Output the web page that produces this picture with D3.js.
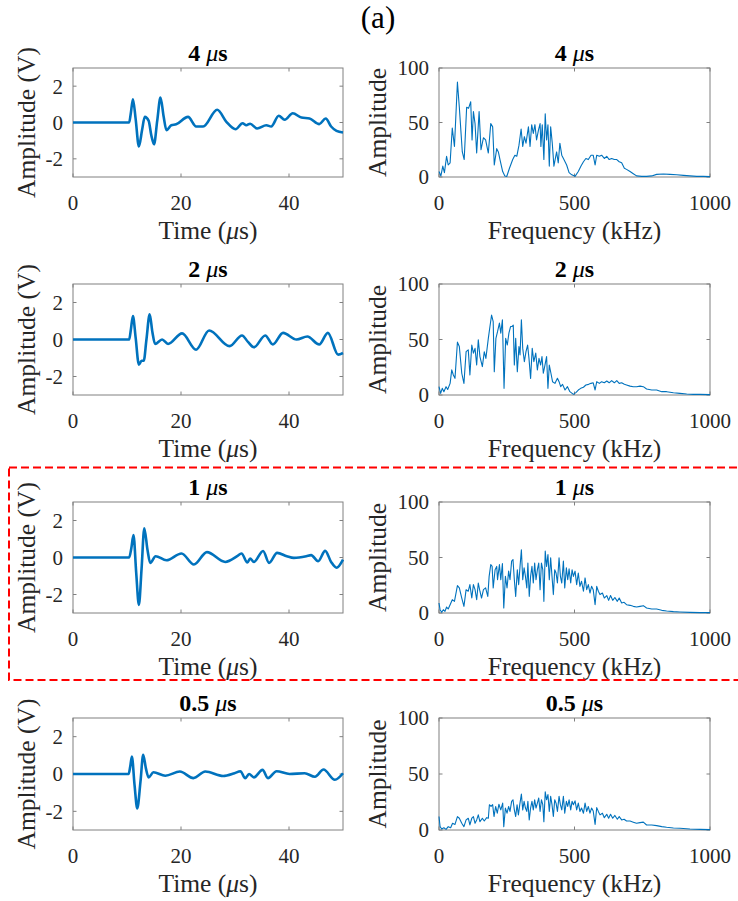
<!DOCTYPE html>
<html>
<head>
<meta charset="utf-8">
<script src="https://cdn.jsdelivr.net/npm/d3@7"></script>
<style>
  html, body { margin: 0; padding: 0; background: #fff; }
  svg { display: block; }
  text { font-family: "Liberation Serif", "Times New Roman", serif; fill: #262626; }
</style>
</head>
<body>
<svg id="chart" width="738" height="901"></svg>
<script>
// ---------------- DATA ----------------
const figureLabel = "(a)";
const pulseWidths = ["4", "2", "1", "0.5"];

const timeTicks = [0, 20, 40];
const ampTicks = [-2, 0, 2];
const freqTicks = [0, 500, 1000];
const specTicks = [0, 50, 100];

// time-domain signals: [time (µs), amplitude (V)]
const wave4 = [[0,0],[10.4,0],[10.7,0.5],[11.1,1.28],[11.6,0.2],[12.2,-1.32],[12.8,-0.4],[13.3,0.31],[14.0,0.1],[14.5,-0.7],[15.0,-1.2],[15.6,0.1],[16.2,1.37],[16.8,0.3],[17.3,-0.42],[18.2,-0.15],[19.1,-0.1],[21.3,0.31],[22.8,-0.22],[24.1,-0.22],[26.7,0.7],[28.4,0.04],[30.1,-0.37],[31.4,-0.04],[32.1,-0.15],[32.8,-0.07],[34.1,-0.33],[35.8,-0.15],[36.7,-0.22],[38.1,0.37],[39.2,0.15],[40.7,0.51],[42.3,0.27],[43.8,0.22],[45.6,-0.09],[46.8,0.22],[47.8,-0.22],[48.8,-0.46],[50,-0.55]];
const wave2 = [[0,0],[10.4,0],[10.7,0.5],[11.1,1.27],[11.6,0.1],[12.2,-1.36],[12.7,-1.15],[13.1,-1.15],[13.6,0.0],[14.2,1.36],[14.7,0.4],[15.2,-0.24],[16.5,0.0],[17.6,-0.24],[20.2,0.33],[22.8,-0.55],[25.2,0.49],[29.0,-0.36],[31.3,0.22],[32.4,-0.13],[33.5,-0.42],[35.6,0.22],[37.0,-0.27],[38.9,0.36],[41.4,0.0],[43.4,0.16],[45.6,-0.27],[47.2,0.36],[49.1,-0.82],[50,-0.73]];
const wave1 = [[0,0],[10.4,0],[10.8,0.5],[11.2,1.22],[11.7,-0.8],[12.2,-2.56],[12.7,-0.6],[13.2,1.58],[13.8,0.4],[14.3,-0.29],[15.3,0.07],[17.3,-0.15],[20.1,0.22],[22.4,-0.38],[24.8,0.29],[28.2,-0.24],[30.4,0.07],[31.2,0.22],[32.3,-0.27],[32.8,-0.05],[33.5,-0.24],[35.2,0.35],[36.3,-0.29],[37.8,0.25],[39.6,0.07],[40.9,-0.02],[43.2,0.07],[44.1,0.13],[45.4,-0.2],[46.7,0.36],[47.8,-0.24],[48.8,-0.55],[50,-0.11]];
const wave05 = [[0,0],[10.3,0],[10.6,0.4],[10.9,0.94],[11.4,-0.6],[11.9,-1.84],[12.5,-0.4],[13.0,1.03],[13.5,0.3],[14.0,-0.18],[14.9,0.09],[17.1,-0.09],[19.8,0.13],[22.3,-0.22],[24.5,0.13],[27.8,-0.11],[29.9,0.04],[31.0,0.15],[31.9,-0.23],[32.6,0.0],[33.5,-0.18],[35.1,0.22],[36.1,-0.22],[37.7,0.15],[40.1,0.0],[42.9,0.04],[44.8,-0.15],[46.4,0.24],[48.5,-0.31],[50,0.04]];

// spectra: [frequency (kHz), amplitude]
const spec4 = [[0,5],[7,1],[14,10],[20,4],[28,19],[34,11],[41,13],[49,45],[57,28],[68,87],[75,64],[86,23],[93,16],[102,64],[109,63],[117,69],[122,34],[127,60],[133,49],[139,22],[148,60],[155,25],[164,36],[172,34],[182,22],[191,49],[198,46],[204,11],[213,26],[219,23],[225,16],[235,5],[243,1],[250,0.5],[260,8],[272,16],[280,20],[287,19],[295,29],[303,44],[309,28],[315,37],[321,31],[330,46],[336,28],[342,48],[348,40],[354,48],[360,34],[367,43],[373,49],[376,28],[381,48],[387,16],[392,58],[397,34],[402,48],[407,10],[412,46],[418,31],[424,10],[434,23],[440,13],[446,31],[453,20],[461,16],[471,11],[480,4],[490,2],[502,0.6],[514,5],[524,10],[533,14],[542,17],[551,16],[561,20],[569,20],[576,11],[582,20],[592,19],[600,20],[610,17],[619,19],[628,16],[637,17],[647,16],[656,16],[665,14],[674,13],[684,8],[692,7],[705,5],[717,3],[729,1],[748,0.6],[766,0.6],[785,1],[803,2.4],[828,2.7],[852,2.4],[877,2],[902,1.5],[926,1],[951,0.6],[975,0.6],[1000,0.3]];
const spec2 = [[0,7.5],[6,1.5],[12,6],[18,3],[26,7.5],[32,5],[41,10.5],[47,22.6],[53,18],[59,15],[68,47.6],[75,43.7],[84,19.6],[92,10.5],[100,39],[108,40.7],[114,18],[121,45],[127,37.7],[133,42],[139,27],[145,49.7],[151,34.6],[160,25.6],[167,39],[173,33],[182,51],[188,61.7],[194,72],[200,66],[204,21],[210,51],[216,57],[223,64.8],[228,55.7],[234,67.8],[240,6],[246,51],[252,45],[258,55.7],[264,61.7],[269,61.7],[274,63],[278,27],[283,51],[289,21],[295,43.7],[299,36],[304,67.8],[309,42],[315,30],[321,39],[327,45],[332,33],[338,15],[344,42],[350,30],[357,37.7],[363,22.6],[369,33],[375,27],[380,34.6],[385,19.6],[391,27],[397,34.6],[402,6],[407,27],[413,19.6],[419,12],[428,10.5],[437,15],[443,12],[449,7.5],[456,9.6],[465,4.5],[474,7.5],[483,3],[496,0.6],[506,2.4],[514,4.5],[523,6],[533,7],[542,9],[552,9.6],[561,10.5],[569,11],[576,4.5],[582,12],[592,10.5],[600,12],[610,11],[619,12.6],[628,11],[637,13],[647,11],[656,13],[665,10.5],[674,11],[684,9.6],[692,9],[705,8],[717,7.5],[729,7.5],[742,8],[754,7.5],[766,5.4],[785,4.5],[803,4.5],[822,3],[840,3],[865,2],[889,1.5],[914,0.9],[938,0.6],[963,0.6],[1000,0.3]];
const spec1 = [[0,9],[4,3],[10,0.6],[16,3],[22,1.5],[28,5.4],[34,3.6],[41,7.5],[49,12],[57,10.5],[68,24.7],[75,22.6],[84,13.5],[92,6],[100,21],[108,19.6],[114,25.6],[121,13.5],[127,25.6],[133,21],[139,12],[145,27],[151,19.6],[157,13.5],[164,21],[172,22.6],[180,15],[185,33],[191,43.7],[196,42],[200,22.6],[207,39],[213,42],[216,30],[223,43.7],[228,30],[234,44.6],[239,4.5],[245,33],[251,22.6],[257,37.7],[262,30],[268,46.7],[273,48.2],[278,30],[283,15],[289,39],[294,25.6],[299,42],[304,57],[309,30],[314,40.7],[319,33],[324,22.6],[328,45],[333,15],[338,33],[343,42],[348,27],[353,45],[358,30],[363,39],[368,45],[373,21],[378,45],[383,39],[387,10.5],[392,55.7],[397,42],[402,52.7],[407,30],[412,49.7],[417,33],[422,16.6],[427,39],[432,36],[437,27],[443,49.7],[448,33],[453,27],[459,46.7],[464,22.6],[470,40.7],[475,30],[480,39.8],[486,27],[491,39],[496,33],[502,37.7],[508,25.6],[514,36],[520,24],[526,28.6],[533,19.6],[539,31.6],[545,21],[551,25.6],[557,18],[563,24],[569,21],[576,7.5],[582,24],[588,19.6],[594,16.6],[603,18],[610,13.5],[619,15.7],[626,11.4],[633,15.7],[641,11.4],[649,14],[658,10.5],[665,13.5],[674,9],[683,9.6],[692,7.5],[705,6.9],[717,6],[729,5.4],[742,6],[754,6.6],[766,4.5],[785,3.6],[803,3.6],[822,2.4],[840,1.8],[865,1.2],[889,0.9],[926,0.6],[963,0.3],[1000,0.3]];
const spec05 = [[0,12],[4,3],[10,0.9],[18,2],[26,0.6],[34,3],[43,2],[50,6],[59,5],[68,12],[75,10.5],[84,6],[92,3],[100,9],[108,10.5],[114,4.5],[121,10.5],[127,12],[133,6],[139,9],[145,13.5],[151,7.5],[160,10.5],[167,8],[176,11],[182,10.5],[186,22.6],[192,21],[198,22.6],[203,12],[209,21],[215,15],[221,23],[228,18],[235,24],[239,3],[245,19.6],[251,15],[257,21],[262,16.6],[268,25.6],[273,27],[278,18],[283,12],[288,22.6],[293,13.5],[298,22.6],[304,32],[309,18],[314,25.6],[319,19.6],[324,16.6],[328,25.6],[333,9],[338,19.6],[343,25.6],[348,18],[353,27],[358,19.6],[363,24],[368,28.6],[373,16.6],[378,27],[383,22.6],[387,7.5],[392,34],[397,27],[402,31.6],[407,16.6],[412,30],[417,22.6],[422,12],[427,27],[432,24],[437,16.6],[443,30],[448,22.6],[453,18],[459,30],[464,15],[470,25.6],[475,21],[480,27],[486,18],[491,25.6],[496,22.6],[502,26],[508,18],[514,24],[520,16.6],[526,19.6],[533,15],[539,24],[545,16.6],[551,21],[557,15],[563,19.6],[569,17],[576,5],[582,20],[588,16.6],[594,13.5],[603,15],[610,11],[619,14],[626,10.5],[633,14],[641,10.5],[649,13],[658,9.6],[665,12],[674,9],[683,9.6],[692,8],[705,8],[717,7],[729,6],[742,6.6],[754,7],[766,4.5],[785,4.5],[803,3.9],[822,3],[840,2.4],[865,1.8],[889,1.5],[926,0.9],[963,0.6],[1000,0.3]];

const waves = [wave4, wave2, wave1, wave05];
const spectra = [spec4, spec2, spec1, spec05];

// ---------------- LAYOUT ----------------
const svg = d3.select("#chart");
const blue = "#0072BD";
const boxColor = "#808080";
const rowTops = [68, 284, 502, 718];
const rowBottoms = [177, 395, 613, 830];
const leftX = [73, 343];
const rightX = [439, 710];
const tickLen = 3.5;

svg.append("text").attr("x", 378).attr("y", 28).attr("text-anchor", "middle")
  .style("font-size", "31px").style("fill", "#000").text(figureLabel);

function titleText(sel, w) {
  sel.append("tspan").attr("font-weight", "bold").text(w + " ");
  sel.append("tspan").attr("font-style", "italic").text("\u03bc");
  sel.append("tspan").attr("font-weight", "bold").text("s");
}

function drawPanel(x0, x1, y0, y1, xDom, yDom, xTicks, yTicks, data, lineW, curve, yLabel, xLabelFn, w) {
  const x = d3.scaleLinear().domain(xDom).range([x0, x1]);
  const y = d3.scaleLinear().domain(yDom).range([y1, y0]);
  const g = svg.append("g");
  // box
  g.append("rect").attr("x", x0).attr("y", y0).attr("width", x1 - x0).attr("height", y1 - y0)
    .attr("fill", "none").attr("stroke", boxColor).attr("stroke-width", 1);
  // ticks (inward, mirrored)
  xTicks.forEach(t => {
    g.append("line").attr("x1", x(t)).attr("x2", x(t)).attr("y1", y1).attr("y2", y1 - tickLen).attr("stroke", boxColor);
    g.append("line").attr("x1", x(t)).attr("x2", x(t)).attr("y1", y0).attr("y2", y0 + tickLen).attr("stroke", boxColor);
    g.append("text").attr("x", x(t)).attr("y", y1 + 33).attr("text-anchor", "middle")
      .style("font-size", "21px").text(t);
  });
  yTicks.forEach(t => {
    g.append("line").attr("x1", x0).attr("x2", x0 + tickLen).attr("y1", y(t)).attr("y2", y(t)).attr("stroke", boxColor);
    g.append("line").attr("x1", x1).attr("x2", x1 - tickLen).attr("y1", y(t)).attr("y2", y(t)).attr("stroke", boxColor);
    g.append("text").attr("x", x0 - 10).attr("y", y(t)).attr("dy", "0.35em").attr("text-anchor", "end")
      .style("font-size", "21px").text(t);
  });
  // line
  const line = d3.line().x(d => x(d[0])).y(d => y(d[1])).curve(curve);
  g.append("path").datum(data).attr("d", line).attr("fill", "none")
    .attr("stroke", blue).attr("stroke-width", lineW).attr("stroke-linejoin", "round");
  // title
  const tt = g.append("text").attr("x", (x0 + x1) / 2).attr("y", y0 - 7).attr("text-anchor", "middle")
    .style("font-size", "24px").style("fill", "#000");
  titleText(tt, w);
  // x label
  const xl = g.append("text").attr("x", (x0 + x1) / 2).attr("y", y1 + 62).attr("text-anchor", "middle")
    .style("font-size", "25.5px");
  xLabelFn(xl);
  // y label
  const cy = (y0 + y1) / 2;
  g.append("text").attr("transform", `translate(${yLabel.x},${cy}) rotate(-90)`)
    .attr("text-anchor", "middle").attr("dy", "0.33em").style("font-size", "25.5px").text(yLabel.text);
}

pulseWidths.forEach((w, i) => {
  drawPanel(leftX[0], leftX[1], rowTops[i], rowBottoms[i], [0, 50], [-3, 3], timeTicks, ampTicks,
    waves[i], 2.6, d3.curveMonotoneX, { x: 27, text: "Amplitude (V)" },
    sel => { sel.append("tspan").text("Time ("); sel.append("tspan").attr("font-style", "italic").text("\u03bc"); sel.append("tspan").text("s)"); }, w);
  drawPanel(rightX[0], rightX[1], rowTops[i], rowBottoms[i], [0, 1000], [0, 100], freqTicks, specTicks,
    spectra[i], 1.1, d3.curveLinear, { x: 378, text: "Amplitude" },
    sel => { sel.text("Frequency (kHz)"); }, w);
});

// red dashed highlight box around third row
svg.append("rect").attr("x", 9).attr("y", 467.5).attr("width", 740).attr("height", 212.5)
  .attr("fill", "none").attr("stroke", "#ff0000").attr("stroke-width", 2)
  .attr("stroke-dasharray", "8,4");
</script>
</body>
</html>
